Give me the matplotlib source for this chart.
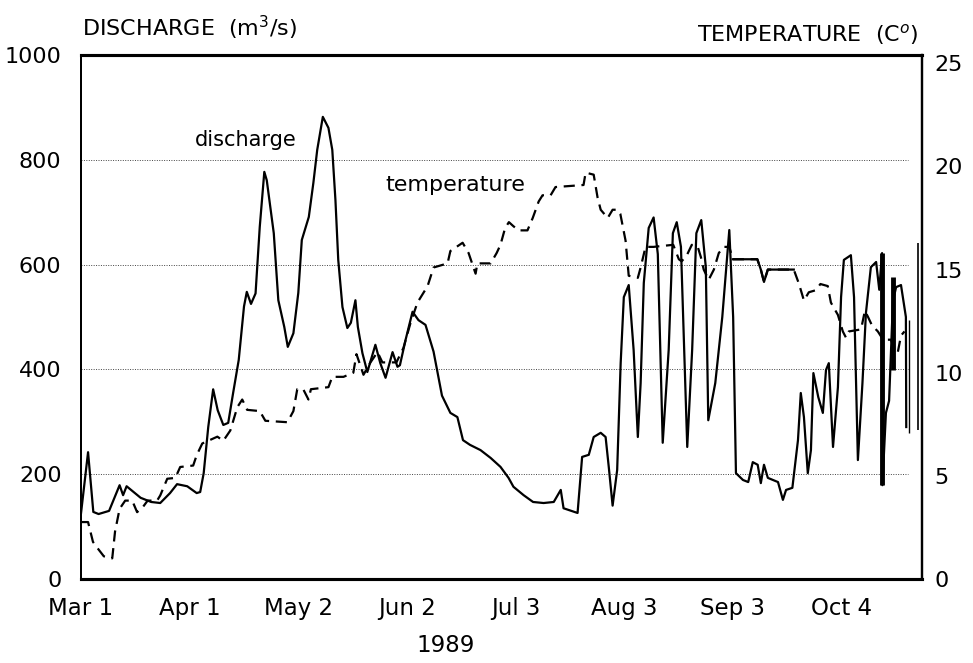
import matplotlib
matplotlib.use("Agg")
import matplotlib.pyplot as plt
import numpy as np

plt.rcParams['font.family'] = ['DejaVu Sans']

# days after Mar 1 1989
discharge_day = [0, 2, 3.5, 5, 8, 11, 12, 13, 17, 20, 22.6, 25.4, 27.4, 30.3, 33, 34, 35, 36.3, 37.7, 39,
                 40.6, 42, 43.4, 45, 46.5, 47.3, 48.5, 49.8, 51, 52.3, 53, 55, 56.3, 58, 59, 60.6, 62, 63,
                 65, 66.3, 67.4, 69, 70.6, 71.7, 72.6, 73.4, 74.6, 76, 77, 78.3, 79, 80.3, 81.7, 84, 85.4,
                 86.9, 88.9, 90.3, 91, 92.6, 94.6, 96.3, 98.3, 100.6, 103, 105.4, 107.4, 109, 111, 114,
                 116.9, 119.7, 122, 123.4, 126.3, 129, 132, 134.9, 136.9, 137.7, 141.7, 143, 144.9, 146.3,
                 148.3, 149.7, 150.6, 151.7, 153, 154, 154.9, 156.3, 157.7, 158.9, 159.7, 160.6, 162,
                 163.4, 164.6, 166, 167.7, 168.9, 170, 171.2, 173, 174.4, 175.6, 177, 178.3, 179, 181,
                 183, 185, 186.1, 186.9, 188.9, 190.4, 191.7, 193.1, 194, 194.9, 196, 198.9, 200.3, 201.2,
                 203, 204.6, 205.4, 206.3, 207.4, 208.3, 209, 210.4, 211.7, 212.6, 213.4, 214.6, 216,
                 216.9, 217.7, 219.7, 220.6, 221.7, 223, 224, 225.4, 226.9, 227.8, 228.6, 228.7, 229.7,
                 230.6, 231.7, 232.6, 234, 235.4, 235.5]
discharge = [126, 242, 128, 124, 130, 179, 160, 177, 155, 147, 145, 164, 181, 177, 164, 166, 202, 290, 362, 322,
             294, 298, 355, 418, 520, 548, 525, 545, 672, 777, 761, 660, 532, 481, 443, 469, 546, 647,
             691, 756, 819, 882, 861, 819, 723, 609, 519, 479, 489, 532, 481, 431, 395, 447, 412,
             384, 433, 405, 408, 456, 510, 494, 485, 434, 350, 317, 309, 265, 256, 246,
             231, 214, 193, 176, 160, 147, 145, 147, 170, 135, 126, 233, 237, 271,
             279, 271, 214, 140, 208, 412, 538, 561, 437, 271, 374, 565, 670,
             690, 620, 260, 437, 660, 681, 634, 252, 437, 660, 685, 595, 303, 374,
             500, 666, 500, 202, 189, 185, 223, 218, 183, 218, 193, 185, 151, 170,
             174, 265, 355, 309, 202, 246, 393, 347, 317, 399, 412, 252, 366,
             538, 609, 618, 538, 227, 374, 508, 595, 605, 552, 622, 179, 317,
             340, 530, 557, 561, 500, 290]

# heavy / thin vertical strokes at the end of the record
bar_day = [228.6, 231.7, 236.3, 238.9]
bar_low = [179, 399, 278, 284]
bar_high = [622, 576, 494, 641]
bar_width = [3.5, 3.5, 1.0, 1.2]

temp_day = [0, 2, 3.4, 5, 6.5, 8.9, 9.7, 11, 12.6, 14.6, 16, 17.7, 19, 21.7, 22.6, 24.6, 26.9, 28.3, 32, 33,
            34.6, 38.9, 40.6, 42.6, 44.6, 46, 47.4, 51, 52.6, 58.9, 60.6, 61.7, 63.4, 64.9, 65.6, 70.6,
            71.7, 74.9, 77.7, 78.6, 80.6, 82.6, 84.6, 86, 90, 92, 94, 96, 98.9, 100.6, 104.6, 105.4,
            108.9, 110.6, 112.6, 113.1, 116.9, 118.6, 119.7, 121, 122.1, 123.4, 124.9, 127.4, 128.9,
            130.6, 131.7, 134, 135.4, 143.4, 144, 146.3, 147.4, 148.3, 150.3, 151.7, 153.1, 153.9,
            155.4, 156.3, 158.9, 159.7, 161.1, 163.4, 169, 170.6, 171.4, 172.9, 174.3, 176, 176.9,
            177.7, 179.1, 180.6, 182, 183.4, 185, 186, 193, 194, 194.9, 196, 203.4, 204.9, 206.3,
            207.7, 209.7, 211, 213.1, 214, 216, 217.4, 218.3, 219.1, 222.6, 223.7, 224.6, 225.7,
            227.4, 228.9, 231.1, 232, 233.1, 234, 235]
temperature = [2.76, 2.76, 1.8, 1.43, 1.1, 1.0, 2.3, 3.4, 3.8, 3.8, 3.24, 3.5, 3.8, 3.8, 4.05, 4.86, 4.9, 5.43,
               5.5, 6.0, 6.57, 6.9, 6.7, 7.2, 8.33, 8.7, 8.2, 8.14, 7.67, 7.6, 8.14, 9.2, 9.2, 8.7, 9.2,
               9.3, 9.8, 9.8, 10.0, 10.9, 9.9, 10.5, 11.0, 10.5, 10.5, 11.2, 12.4, 13.4, 14.2, 15.1, 15.3,
               15.9, 16.3, 15.8, 14.8, 15.3, 15.3, 15.8, 16.2, 17.0, 17.3, 17.1, 16.9, 16.9, 17.5, 18.3,
               18.6, 18.6, 19.0, 19.1, 19.7, 19.6, 18.5, 17.9, 17.5, 17.9, 17.9, 17.7, 16.4, 14.7, 14.6,
               15.1, 16.1, 16.1, 16.2, 15.5, 15.4, 15.7, 16.2, 16.1, 15.6, 15.0, 14.5, 15.0, 15.8, 16.1,
               16.1, 15.5, 15.5, 15.0, 14.4, 15.0, 15.0, 14.3, 13.5, 13.9, 14.0, 14.3, 14.2, 13.4, 12.8,
               12.0, 11.7, 12.0, 12.1, 13.0, 12.7, 12.3, 12.0, 11.6, 11.6, 11.2, 11.0, 11.8, 12.0]

tick_days = [0, 31, 62, 93, 124, 155, 186, 217]
tick_labels = ['Mar 1', 'Apr 1', 'May 2', 'Jun 2', 'Jul 3', 'Aug 3', 'Sep 3', 'Oct 4']
discharge_ticks = [0, 200, 400, 600, 800, 1000]
temp_ticks = [0, 5, 10, 15, 20, 25]
grid_levels = [200, 400, 600, 800]

fig = plt.figure(figsize=(9.73, 6.63), dpi=100)
ax = fig.add_axes([0.0833, 0.1267, 0.8643, 0.7903])
ax2 = ax.twinx()

ax.hlines(grid_levels, 0, 236, colors='#444444', linestyles=(0, (1, 1.5)), linewidth=0.7, zorder=1)

ax.plot(discharge_day, discharge, color='black', linewidth=1.6, zorder=3)
ax.vlines(bar_day, bar_low, bar_high, colors='black', linewidth=bar_width, zorder=3)

temp_day_arr = np.array(temp_day)
temp_arr = np.array(temperature)
ax2.plot(temp_day_arr, temp_arr, color='black', linewidth=1.6, linestyle=(0, (5, 3)), zorder=3)
solid = (temp_day_arr >= 186) & (temp_day_arr <= 204)
ax2.plot(temp_day_arr[solid], temp_arr[solid], color='black', linewidth=1.6, zorder=3)

ax.set_xlim(0, 240)
ax.set_ylim(0, 1000)
ax2.set_ylim(0.43, 25.4)

ax.set_xticks(tick_days)
ax.set_xticklabels(tick_labels)
ax.set_yticks(discharge_ticks)
ax2.set_yticks(temp_ticks)

ax.tick_params(axis='x', length=0, pad=13, labelsize=16.5)
ax.tick_params(axis='y', length=0, pad=14, labelsize=16)
ax2.tick_params(axis='y', length=0, pad=9, labelsize=16)

for a in (ax, ax2):
    a.spines['top'].set_linewidth(2.2)
    a.spines['bottom'].set_linewidth(2.2)
    a.spines['left'].set_linewidth(1.4)
    a.spines['right'].set_linewidth(1.6)

ax.text(46.9, 838, 'discharge', fontsize=15, ha='center', va='center')
ax.text(106.9, 752, 'temperature', fontsize=16, ha='center', va='center')
ax.text(0.433, -0.105, '1989', transform=ax.transAxes, fontsize=16.5, ha='center', va='top')

fig.text(82 / 973, 1 - 28 / 663, 'DISCHARGE  (m$^3$/s)', fontsize=16, ha='left', va='center')
fig.text(918 / 973, 1 - 35 / 663, 'TEMPERATURE  (C$^o$)', fontsize=16, ha='right', va='center')

fig.savefig('out.png', dpi=100)
